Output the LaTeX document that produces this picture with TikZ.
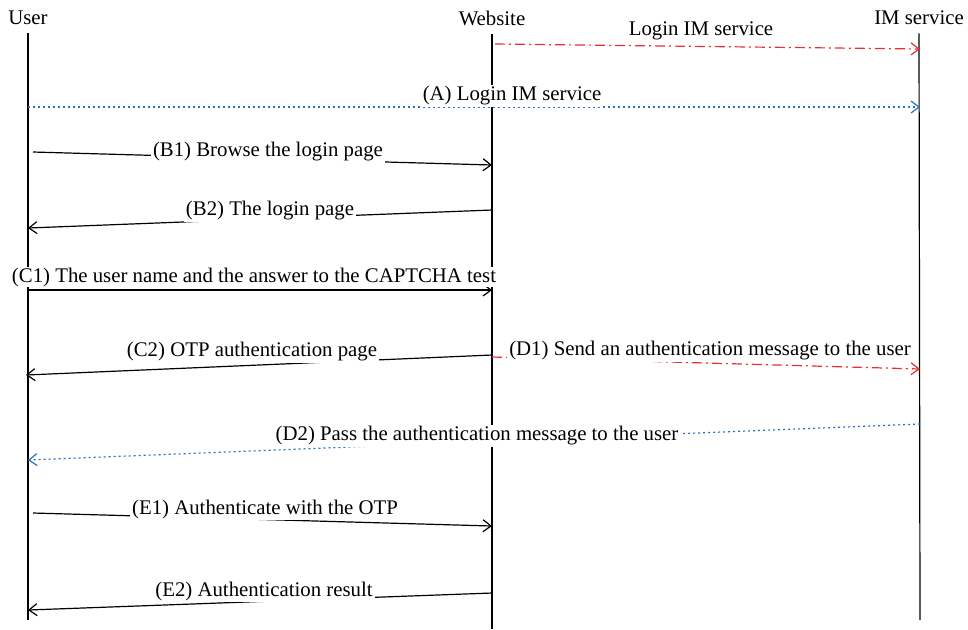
\documentclass[tikz,border=0pt]{standalone}
\usepackage{fontspec}
\setmainfont{Liberation Serif}
\usetikzlibrary{arrows.meta}
\definecolor{imred}{RGB}{232,48,48}
\definecolor{imblue}{RGB}{40,112,192}

\begin{document}
\begin{tikzpicture}[
                x=0.5pt, y=-0.5pt,
                font=\fontsize{10.4}{12}\selectfont,
                head/.style={inner sep=4pt},
                msg/.style={semithick,-{Straight Barb[length=4pt,width=6pt]}},
                redmsg/.style={msg,imred,dash pattern=on 5pt off 2pt on 1pt off 2pt},
                bluemsg/.style={msg,imblue,dash pattern=on 1pt off 1.5pt},
                lbl/.style={fill=white,inner sep=1pt}
            ]
                \useasboundingbox (0,0) rectangle (968,629);
                % lifelines
                \node[head] (user) at (28,18) {User};
                \node[head] (web) at (492,18) {Website};
                \node[head] (im) at (919,18) {IM service};
                \coordinate (userend) at (28,620);
                \coordinate (webend) at (492,629);
                \coordinate (imend) at (920,620);
                \draw[semithick] (user.south) -- (userend);
                \draw[semithick] (web.south) -- (webend);
                \draw[semithick] (im.south) -- (imend);
                % end points of the messages
                \coordinate (l0) at (495,44);  \coordinate (l1) at (920,49);
                \coordinate (a0) at (28,107);  \coordinate (a1) at (920,107);
                \coordinate (b10) at (33,152); \coordinate (b11) at (492,165);
                \coordinate (b20) at (492,210); \coordinate (b21) at (28,228);
                \coordinate (c10) at (28,290); \coordinate (c11) at (492,290);
                \coordinate (c20) at (492,355); \coordinate (c21) at (26,375);
                \coordinate (d10) at (492,357); \coordinate (d11) at (920,369);
                \coordinate (d20) at (920,424); \coordinate (d21) at (28,460);
                \coordinate (e10) at (33,513); \coordinate (e11) at (492,526);
                \coordinate (e20) at (492,593); \coordinate (e21) at (28,610);
                % messages
                \draw[redmsg] (l0) -- (l1);
                \draw[bluemsg] (a0) -- (a1);
                \draw[msg] (b10) -- (b11);
                \draw[msg] (b20) -- (b21);
                \draw[msg] (c10) -- (c11);
                \draw[msg] (c20) -- (c21);
                \draw[redmsg] (d10) -- (d11);
                \draw[bluemsg] (d20) -- (d21);
                \draw[msg] (e10) -- (e11);
                \draw[msg] (e20) -- (e21);
                % labels
                \node (login) at (701,31) {Login IM service};
                \node[lbl] (la) at (512,96) {(A) Login IM service};
                \node[lbl] (lb1) at (268,152) {(B1) Browse the login page};
                \node[lbl] (lb2) at (270,211) {(B2) The login page};
                \node[lbl,inner sep=0.5pt] (lc1) at (254,277) {(C1) The user name and the answer to the CAPTCHA test};
                \node[lbl] (lc2) at (252,352) {(C2) OTP authentication page};
                \node[lbl] (ld1) at (710,351) {(D1) Send an authentication message to the user};
                \node[lbl] (ld2) at (477,436) {(D2) Pass the authentication message to the user};
                \node[lbl] (le1) at (265,509) {(E1) Authenticate with the OTP};
                \node[lbl] (le2) at (264,591) {(E2) Authentication result};
            \end{tikzpicture}
\end{document}
